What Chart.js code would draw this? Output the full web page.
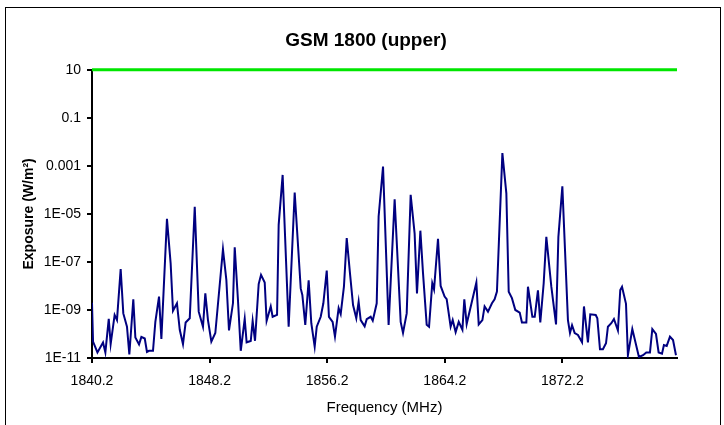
<!DOCTYPE html>
<html>
<head>
<meta charset="utf-8">
<script src="https://cdn.jsdelivr.net/npm/chart.js@4.4.0/dist/chart.umd.min.js"></script>
<style>
  html, body { margin: 0; padding: 0; background: #fff; }
</style>
</head>
<body>
<canvas id="chart_gsm" width="724" height="425"></canvas>
<script>
/* ---------- datos ---------- */
const freq_mhz = [
	1840.2, 1840.27, 1840.57, 1840.95, 1841.11, 1841.34, 1841.47, 1841.74, 1841.9, 1842.15,
	1842.33, 1842.58, 1842.74, 1843.01, 1843.15, 1843.4, 1843.56, 1843.79, 1843.94, 1844.08,
	1844.35, 1844.51, 1844.76, 1844.92, 1845.3, 1845.55, 1845.71, 1845.98, 1846.17, 1846.39,
	1846.57, 1846.85,
	1847.19, 1847.46, 1847.75, 1847.91, 1848.09, 1848.32, 1848.59, 1849.11, 1849.34, 1849.52,
	1849.79, 1849.91, 1850.13, 1850.32, 1850.59, 1850.72, 1851.0, 1851.13, 1851.29, 1851.54,
	1851.7, 1851.95, 1852.08, 1852.36, 1852.49, 1852.79, 1852.9, 1853.17, 1853.58,
	1853.99, 1854.4, 1854.51, 1854.71, 1854.94, 1855.12, 1855.35, 1855.49, 1855.76, 1855.94,
	1856.17, 1856.32, 1856.57, 1856.73, 1856.98, 1857.12, 1857.34, 1857.53, 1857.75, 1857.96,
	1858.18, 1858.34, 1858.48, 1858.75, 1858.89, 1859.16, 1859.3, 1859.57, 1859.7, 1860.0,
	1860.38,
	1860.79, 1861.2, 1861.36, 1861.61, 1861.88, 1862.15, 1862.31, 1862.54, 1862.72, 1862.97,
	1863.13, 1863.35, 1863.47, 1863.74, 1863.92, 1864.19, 1864.33, 1864.6, 1864.74, 1864.94,
	1865.15, 1865.4, 1865.53, 1865.69, 1866.35, 1866.51, 1866.76, 1866.91, 1867.14,
	1867.41, 1867.59, 1867.75, 1868.12, 1868.39, 1868.55, 1868.77, 1869.0, 1869.3, 1869.45,
	1869.75, 1869.86, 1870.16, 1870.32, 1870.54, 1870.7, 1870.93, 1871.11, 1871.45, 1871.77,
	1871.93, 1872.2, 1872.58, 1872.72, 1872.86, 1873.04, 1873.26, 1873.54, 1873.67, 1873.94,
	1874.1, 1874.47, 1874.58, 1874.76, 1874.96, 1875.17, 1875.3, 1875.53, 1875.71, 1875.98,
	1876.14, 1876.26, 1876.53, 1876.66, 1876.96, 1877.41, 1877.69, 1877.91, 1878.16, 1878.32,
	1878.57, 1878.75, 1878.98, 1879.11, 1879.3, 1879.52, 1879.73, 1879.93
];

const exposure = [
	2.0e-9, 4.8e-11, 1.7e-11, 4.4e-11, 1.7e-11, 4.3e-10, 3.8e-11, 6.2e-10, 3.8e-10, 5.1e-8,
	7.2e-10, 2.0e-10, 1.4e-11, 2.8e-9, 7.1e-11, 3.7e-11, 7.6e-11, 6.5e-11, 1.8e-11, 2.0e-11,
	2.0e-11, 3.2e-10, 3.6e-9, 6.2e-11, 6.2e-6, 8.7e-8, 9.3e-10, 1.9e-9, 1.5e-10, 3.8e-11,
	3.0e-10, 4.5e-10,
	2.0e-5, 8.5e-10, 2.0e-10, 4.9e-9, 3.8e-10, 4.8e-11, 1.1e-10, 3.4e-7, 1.8e-8, 1.4e-10,
	1.9e-9, 4.1e-7, 2.6e-9, 2.0e-11, 4.3e-10, 4.5e-11, 5.1e-11, 3.5e-10, 5.2e-11, 1.2e-8,
	2.9e-8, 1.4e-8, 3.5e-10, 1.4e-9, 5.2e-10, 6.2e-10, 3.5e-6, 4.2e-4, 2.0e-10,
	7.8e-5, 7.9e-9, 4.2e-9, 2.4e-10, 1.7e-8, 2.8e-10, 3.0e-11, 2.0e-10, 5.2e-10, 1.9e-9,
	4.4e-8, 5.2e-10, 3.2e-10, 7.8e-11, 1.2e-9, 6.8e-10, 9.3e-9, 9.8e-7, 3.4e-8, 1.6e-9,
	4.5e-10, 2.2e-9, 3.8e-10, 2.1e-10, 4.1e-10, 5.2e-10, 3.6e-10, 1.9e-9, 7.8e-6, 9.3e-4,
	2.4e-10,
	4.1e-5, 3.2e-10, 1.1e-10, 7.2e-10, 6.2e-5, 1.5e-6, 4.9e-9, 2.0e-6, 3.4e-8, 2.4e-10,
	2.0e-10, 1.3e-8, 7.2e-9, 9.1e-7, 1.0e-8, 3.6e-9, 2.8e-9, 2.0e-10, 3.8e-10, 1.2e-10,
	3.2e-10, 1.5e-10, 2.8e-9, 2.6e-10, 1.4e-8, 2.5e-10, 3.8e-10, 1.4e-9, 8.5e-10,
	1.9e-9, 2.8e-9, 5.8e-9, 3.4e-3, 7.2e-5, 5.8e-9, 3.1e-9, 1.0e-9, 7.8e-10, 3.0e-10,
	3.0e-10, 9.3e-9, 5.2e-10, 5.2e-10, 6.5e-9, 3.0e-10, 1.3e-8, 1.1e-6, 9.3e-9, 2.5e-10,
	1.1e-6, 1.4e-4, 3.8e-10, 1.1e-10, 2.3e-10, 1.1e-10, 9.1e-11, 4.5e-11, 1.4e-9, 4.5e-11,
	6.6e-10, 6.2e-10, 4.5e-10, 2.3e-11, 2.3e-11, 4.1e-11, 2.0e-10, 2.8e-10, 4.2e-10, 1.4e-10,
	6.8e-9, 9.3e-9, 1.8e-9, 1.3e-11, 1.6e-10, 1.1e-11, 1.3e-11, 1.7e-11, 1.7e-11, 1.6e-10,
	1.0e-10, 1.7e-11, 1.5e-11, 3.5e-11, 3.2e-11, 7.8e-11, 5.6e-11, 1.3e-11
];

const limit_value = 10;
const freq_range = [1840.2, 1880.0];
const x_ticks = [1840.2, 1848.2, 1856.2, 1864.2, 1872.2];
const y_ticks = [1e1, 1e-1, 1e-3, 1e-5, 1e-7, 1e-9, 1e-11];
const y_tick_labels = ["10", "0.1", "0.001", "1E-05", "1E-07", "1E-09", "1E-11"];

const chart_title = "GSM 1800 (upper)";
const x_title = "Frequency (MHz)";
const y_title = "Exposure (W/m\u00B2)";

/* ---------- marco alrededor del grafico ---------- */
const framePlugin = {
	id: "frame",
	beforeDraw(chart) {
		const c = chart.ctx;
		c.save();
		c.fillStyle = "#ffffff";
		c.fillRect(0, 0, chart.width, chart.height);
		c.strokeStyle = "#000000";
		c.lineWidth = 1;
		c.strokeRect(5.5, 7.5, 715, 430);
		c.restore();
	},
};

const FONT = "'Liberation Sans', Arial, sans-serif";

const ctx = document.getElementById("chart_gsm").getContext("2d");

let chart_gsm = new Chart(ctx, {
	type: "line",
	data: {
		datasets: [
			{
				label: "Limit",
				data: freq_range.map((f) => ({ x: f, y: limit_value })),
				borderColor: "#00e600",
				borderWidth: 3,
				pointRadius: 0,
				clip: false,
			},
			{
				label: "Exposure",
				data: freq_mhz.map((f, i) => ({ x: f, y: exposure[i] })),
				borderColor: "#000080",
				borderWidth: 2,
				pointRadius: 0,
				tension: 0,
			},
		],
	},
	options: {
		responsive: false,
		animation: false,
		devicePixelRatio: 1,
		layout: {
			padding: { left: 8, right: 0, top: 0, bottom: 0 },
		},
		plugins: {
			legend: { display: false },
			tooltip: { enabled: false },
			title: {
				display: true,
				text: chart_title,
				color: "#000000",
				font: { family: FONT, size: 19, weight: "bold" },
				padding: { top: 29, bottom: 18 },
			},
		},
		scales: {
			x: {
				type: "linear",
				min: freq_range[0],
				max: freq_range[1],
				afterBuildTicks: (scale) => {
					scale.ticks = x_ticks.map((v) => ({ value: v }));
				},
				afterFit: (scale) => {
					scale.height = 67;
				},
				ticks: {
					color: "#000000",
					font: { family: FONT, size: 14 },
					padding: 10,
					maxRotation: 0,
					callback: (value) => Number(value).toFixed(1),
				},
				grid: {
					drawOnChartArea: false,
					tickLength: 5,
					color: "#000000",
					lineWidth: 2,
				},
				border: { color: "#000000", width: 2 },
				title: {
					display: true,
					text: x_title,
					color: "#000000",
					font: { family: FONT, size: 15 },
					padding: { top: 0, bottom: 8 },
				},
			},
			y: {
				type: "logarithmic",
				min: 1e-11,
				max: 10,
				afterBuildTicks: (scale) => {
					scale.ticks = y_ticks.map((v) => ({ value: v }));
				},
				afterFit: (scale) => {
					scale.width = 84;
				},
				ticks: {
					color: "#000000",
					font: { family: FONT, size: 14 },
					padding: 6,
					callback: (value) => {
						const i = y_ticks.findIndex((t) => Math.abs(Math.log10(t) - Math.log10(value)) < 1e-6);
						return i >= 0 ? y_tick_labels[i] : "";
					},
				},
				grid: {
					drawOnChartArea: false,
					tickLength: 5,
					color: "#000000",
					lineWidth: 2,
				},
				border: { color: "#000000", width: 2 },
				title: {
					display: true,
					text: y_title,
					color: "#000000",
					font: { family: FONT, size: 14, weight: "bold" },
					padding: { top: 13, bottom: 0 },
				},
			},
			// eje vacio a la derecha, solo reserva el margen del area de trazado
			y_margin: {
				type: "linear",
				position: "right",
				display: true,
				afterFit: (scale) => {
					scale.width = 47;
				},
				ticks: { display: false },
				grid: { display: false },
				border: { display: false },
			},
		},
	},
	plugins: [framePlugin],
});
</script>
</body>
</html>
